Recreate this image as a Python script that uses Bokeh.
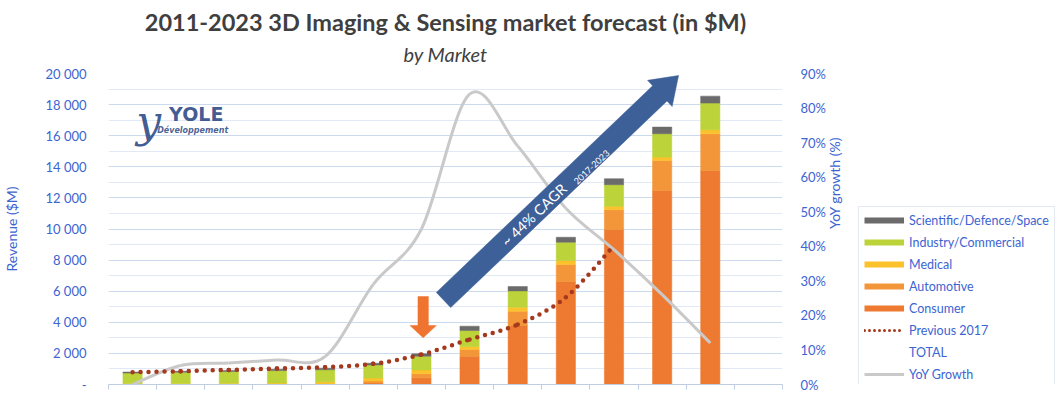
import math
from bokeh.plotting import figure
from bokeh.layouts import row
from bokeh.models import (Range1d, LinearAxis, FixedTicker, Grid, Legend, LegendItem,
                          Label, Title, ColumnDataSource)
from bokeh.embed import file_html
from bokeh.resources import INLINE

# ---------------- data ----------------
years = [2011, 2012, 2013, 2014, 2015, 2016, 2017, 2018, 2019, 2020, 2021, 2022, 2023]
consumer = [0, 0, 0, 0, 10, 90, 430, 1820, 3790, 6620, 9970, 12480, 13760]
automotive = [0, 0, 0, 10, 30, 130, 260, 430, 920, 1090, 1270, 1930, 2360]
medical = [60, 70, 75, 85, 130, 200, 250, 200, 260, 260, 215, 215, 260]
industry = [680, 720, 760, 800, 780, 840, 880, 1020, 1050, 1180, 1395, 1500, 1715]
scientific = [60, 60, 70, 80, 100, 110, 150, 280, 280, 320, 385, 430, 450]
previous_2017 = [790, 855, 940, 1030, 1110, 1330, 1930, 2900, 3860, 5610, 8940]  # 2011-2021
yoy_growth = [0, 5.5, 6.2, 7.1, 8.1, 29, 45, 84, 69, 51, 39, 26, 12]  # %

left_ticks = list(range(0, 20001, 2000))
right_ticks = list(range(0, 91, 10))

# ---------------- layout / style ----------------
FONT = "Lato"
TXT_BLUE = "#3C64D2"
C_CONS = "#ED7A30"
C_AUTO = "#F39639"
C_MED = "#FBC22C"
C_IND = "#BCD33A"
C_SCI = "#6B6B6B"
C_PREV = "#A5391E"
C_YOY = "#C9C9C9"
C_ARROW = "#3D6098"
C_MARK = "#EE7430"

W, H = 858, 392
LEG_W = 200
FL, FT, FR, FB = 103, 73, 782, 384        # frame edges in page pixels
Y_MAX = 20000

n_slots = len(years) + 1
xs = [i + 0.5 for i in range(len(years))]


def px2x(px):
    return (px - FL) * n_slots / (FR - FL)


def py2y(py):
    return (FB - py) * Y_MAX / (FB - FT)


src = ColumnDataSource(dict(x=xs, consumer=consumer, automotive=automotive,
                            medical=medical, industry=industry, scientific=scientific))

p = figure(width=W, height=H, x_range=Range1d(0, n_slots), y_range=Range1d(0, Y_MAX),
           output_backend="svg", toolbar_location=None,
           min_border_left=FL, min_border_right=W - FR, min_border_top=FT, min_border_bottom=H - FB)
p.outline_line_color = None
p.background_fill_color = "white"
p.border_fill_color = "white"

# titles (later-added title sits nearer the frame)
p.title.text = "2011-2023 3D Imaging & Sensing market forecast (in $M)"
p.title.text_font = FONT
p.title.text_font_style = "bold"
p.title.text_font_size = "23.5px"
p.title.text_color = "#3F3F3F"
p.title.align = "center"
p.title.standoff = 0
p.add_layout(Title(text="by Market", align="center", text_font=FONT, text_font_style="italic",
                   text_font_size="20px", text_color="#3F3F3F", standoff=12,
                   vertical_align="top"), "above")

# grids
p.xgrid.visible = False
p.ygrid.ticker = FixedTicker(ticks=left_ticks)
p.ygrid.grid_line_color = "#CCDAEE"
minor = Grid(dimension=1, ticker=FixedTicker(ticks=list(range(1000, 20000, 2000))),
             grid_line_color="#E1E9F6")
p.add_layout(minor)

# left axis
ya = p.yaxis[0]
ya.ticker = FixedTicker(ticks=left_ticks)
ya.major_label_overrides = {v: ("-" if v == 0 else f"{v:,}".replace(",", " ")) for v in left_ticks}
ya.axis_line_color = None
ya.major_tick_line_color = None
ya.minor_tick_line_color = None
ya.major_label_standoff = 16
ya.major_label_text_font = FONT
ya.major_label_text_font_size = "13px"
ya.major_label_text_color = TXT_BLUE
ya.axis_label = "Revenue ($M)"
ya.axis_label_text_font = FONT
ya.axis_label_text_font_style = "normal"
ya.axis_label_text_font_size = "14px"
ya.axis_label_text_color = TXT_BLUE
ya.axis_label_standoff = 22

# bottom axis (ticks at slot boundaries, no labels)
xa = p.xaxis[0]
xa.ticker = FixedTicker(ticks=list(range(0, n_slots + 1)))
xa.major_label_overrides = {i: "" for i in range(0, n_slots + 1)}
xa.major_label_text_font_size = "1px"
xa.major_label_standoff = 0
xa.axis_line_color = "#BFCDE3"
xa.major_tick_line_color = "#BFCDE3"
xa.major_tick_in = 0
xa.major_tick_out = 5
xa.minor_tick_line_color = None

# right axis
p.extra_y_ranges = {"yoy": Range1d(0, 90)}
ra = LinearAxis(y_range_name="yoy", ticker=FixedTicker(ticks=right_ticks))
ra.major_label_overrides = {v: f"{v}%" for v in right_ticks}
ra.axis_line_color = None
ra.major_tick_line_color = None
ra.minor_tick_line_color = None
ra.major_label_standoff = 12
ra.major_label_text_font = FONT
ra.major_label_text_font_size = "13px"
ra.major_label_text_color = TXT_BLUE
ra.axis_label = "YoY growth (%)"
ra.axis_label_text_font = FONT
ra.axis_label_text_font_style = "normal"
ra.axis_label_text_font_size = "14px"
ra.axis_label_text_color = TXT_BLUE
ra.axis_label_standoff = 6
try:
    ra.axis_label_orientation = math.pi / 2
except Exception:
    pass
p.add_layout(ra, "right")

# stacked bars
stackers = ["consumer", "automotive", "medical", "industry", "scientific"]
colors = [C_CONS, C_AUTO, C_MED, C_IND, C_SCI]
p.vbar_stack(stackers, x="x", width=0.4, source=src, fill_color=colors, line_color=colors,
             line_width=0.5)


def smooth(xv, yv):
    n = len(xv)
    pts = list(zip(xv, yv))
    out = dict(x0=[], y0=[], x1=[], y1=[], cx0=[], cy0=[], cx1=[], cy1=[])
    for i in range(n - 1):
        p0 = pts[i - 1] if i > 0 else pts[i]
        p1 = pts[i]
        p2 = pts[i + 1]
        p3 = pts[i + 2] if i + 2 < n else pts[i + 1]
        out["x0"].append(p1[0]); out["y0"].append(p1[1])
        out["x1"].append(p2[0]); out["y1"].append(p2[1])
        out["cx0"].append(p1[0] + (p2[0] - p0[0]) / 6); out["cy0"].append(p1[1] + (p2[1] - p0[1]) / 6)
        out["cx1"].append(p2[0] - (p3[0] - p1[0]) / 6); out["cy1"].append(p2[1] - (p3[1] - p1[1]) / 6)
    return ColumnDataSource(out)


# YoY growth (right axis)
p.bezier(x0="x0", y0="y0", x1="x1", y1="y1", cx0="cx0", cy0="cy0", cx1="cx1", cy1="cy1",
         source=smooth(xs, yoy_growth), line_color=C_YOY, line_width=3, y_range_name="yoy")

# Previous 2017 forecast
p.bezier(x0="x0", y0="y0", x1="x1", y1="y1", cx0="cx0", cy0="cy0", cx1="cx1", cy1="cy1",
         source=smooth(xs[:len(previous_2017)], previous_2017), line_color=C_PREV,
         line_width=4.5, line_dash="0 8", line_cap="round")


# ---------------- annotation shapes (page-pixel geometry -> data units) ----------------
def block_arrow(tail, tip, shaft_w, head_w, head_l):
    tx, ty = tail
    ex, ey = tip
    L = math.hypot(ex - tx, ey - ty)
    ux, uy = (ex - tx) / L, (ey - ty) / L
    nx, ny = -uy, ux
    bx, by = ex - ux * head_l, ey - uy * head_l
    s, h = shaft_w / 2, head_w / 2
    pts = [(tx + nx * s, ty + ny * s), (bx + nx * s, by + ny * s), (bx + nx * h, by + ny * h),
           (ex, ey), (bx - nx * h, by - ny * h), (bx - nx * s, by - ny * s),
           (tx - nx * s, ty - ny * s)]
    return [px2x(a) for a, _ in pts], [py2y(b) for _, b in pts]


ax_, ay_ = block_arrow((440.5, 299.5), (677.3, 75.0), 21, 36, 26)
p.patch(ax_, ay_, fill_color=C_ARROW, line_color=C_ARROW, line_width=0.5)
ang = math.atan2(299.5 - 75.0, 677.3 - 440.5)
p.add_layout(Label(x=px2x(501), y=py2y(243), text="~ 44% CAGR", angle=ang, text_color="white",
                   text_font=FONT, text_font_size="14.5px", text_baseline="middle", text_align="left"))
p.add_layout(Label(x=px2x(573), y=py2y(182), text="2017-2023", angle=ang, text_color="white",
                   text_font=FONT, text_font_size="9px", text_baseline="middle", text_align="left"))

mx_, my_ = block_arrow((420.0, 296.0), (420.0, 337.3), 10.5, 26.5, 12.3)
p.patch(mx_, my_, fill_color=C_MARK, line_color=C_MARK, line_width=0.5)

# logo
p.add_layout(Label(x=px2x(131), y=py2y(121), text="y", text_color="#2A4785", text_font="DejaVu Serif",
                   text_font_style="italic", text_font_size="44px", text_baseline="middle",
                   text_alpha=0.9))
p.add_layout(Label(x=px2x(164), y=py2y(124), text="YOLE", text_color="#2A4785", text_font="DejaVu Sans",
                   text_font_style="bold", text_font_size="19px", text_alpha=0.9))
p.add_layout(Label(x=px2x(152), y=py2y(134), text="Développement", text_color="#2A4785",
                   text_font="DejaVu Sans", text_font_style="bold italic", text_font_size="8px",
                   text_alpha=0.85))

# ---------------- legend panel (separate figure on the right) ----------------
q = figure(width=LEG_W, height=H, x_range=Range1d(0, 1), y_range=Range1d(0, 1),
           output_backend="svg", toolbar_location=None, x_axis_location=None,
           y_axis_location=None, min_border=0)
q.outline_line_color = None
q.grid.visible = False
q.background_fill_color = "white"
q.border_fill_color = "white"

nan = float("nan")
dx, dy = [nan, nan], [nan, nan]
r_sci = q.line(dx, dy, line_color=C_SCI, line_width=6)
r_ind = q.line(dx, dy, line_color=C_IND, line_width=6)
r_med = q.line(dx, dy, line_color=C_MED, line_width=6)
r_aut = q.line(dx, dy, line_color=C_AUTO, line_width=6)
r_con = q.line(dx, dy, line_color=C_CONS, line_width=6)
r_prev = q.line(dx, dy, line_color=C_PREV, line_width=3, line_dash="0 5", line_cap="round")
r_tot = q.line(dx, dy, line_alpha=0)
r_yoy = q.line(dx, dy, line_color=C_YOY, line_width=3)

legend = Legend(items=[
    LegendItem(label="Scientific/Defence/Space", renderers=[r_sci]),
    LegendItem(label="Industry/Commercial", renderers=[r_ind]),
    LegendItem(label="Medical", renderers=[r_med]),
    LegendItem(label="Automotive", renderers=[r_aut]),
    LegendItem(label="Consumer", renderers=[r_con]),
    LegendItem(label="Previous 2017", renderers=[r_prev]),
    LegendItem(label="TOTAL", renderers=[r_tot]),
    LegendItem(label="YoY Growth", renderers=[r_yoy]),
], location=(0, -4), glyph_width=40, glyph_height=16, label_height=16, spacing=6,
    padding=5, label_standoff=5, label_text_font=FONT, label_text_font_size="12.5px",
    label_text_color=TXT_BLUE, border_line_color="#C8D3E4", background_fill_color="white",
    background_fill_alpha=1.0, margin=0)
q.add_layout(legend)

layout = row(p, q, spacing=0)
open("out.html", "w").write(file_html(layout, INLINE))
